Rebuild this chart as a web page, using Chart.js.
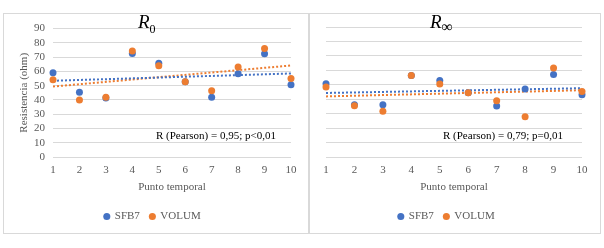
<!DOCTYPE html>
<html><head><meta charset="utf-8">
<script src="https://cdn.jsdelivr.net/npm/chart.js@4.4.0/dist/chart.umd.min.js"></script>
<style>
body{margin:0;background:#fff;width:604px;height:248px;position:relative;overflow:hidden;font-family:"Liberation Serif",serif;}
.box{position:absolute;border:1px solid #d9d9d9;box-sizing:border-box;}
canvas{position:absolute;}
.ttl{position:absolute;font-family:"Liberation Serif",serif;font-size:19px;line-height:19px;color:#000;white-space:nowrap;}
.note{position:absolute;font-family:"Liberation Serif",serif;font-size:11px;line-height:13px;color:#000;white-space:nowrap;}
</style></head><body>
<div class="box" style="left:3px;top:13px;width:306px;height:221px"></div>
<div class="box" style="left:309px;top:13px;width:292px;height:221px"></div>
<canvas id="c1" width="304" height="218" style="left:4px;top:14px"></canvas>
<canvas id="c2" width="288" height="218" style="left:311px;top:14px"></canvas>
<div class="ttl" style="left:138px;top:12px"><i>R</i><span style="font-size:12px;vertical-align:-5px">0</span></div>
<div class="ttl" style="left:430px;top:12px"><i>R</i><span style="font-size:16px;vertical-align:-4px">∞</span></div>
<div class="note" style="left:156px;top:129px">R (Pearson) = 0,95; p&lt;0,01</div>
<div class="note" style="left:443px;top:129px">R (Pearson) = 0,79; p=0,01</div>
<script>
const timePoints = [1,2,3,4,5,6,7,8,9,10];
const r0SFB7  = [59, 45.3, 41.4, 72.5, 65.7, 52.8, 41.8, 58.3, 72.3, 50.7];
const r0VOLUM = [54.2, 40, 41.8, 74.3, 64, 52.8, 46.5, 63, 76, 55];
const rInfSFB7  = [50.7, 36.2, 36.2, 56.5, 53, 44.5, 35.3, 47, 57.2, 43.1];
const rInfVOLUM = [48.4, 35.5, 31.6, 56.5, 50.5, 44.5, 39, 27.9, 61.6, 45.4];
const seriesNames = ['SFB7', 'VOLUM'];
const yTickMin = 0, yTickMax = 90, yTickStep = 10;

const BLUE = '#4472C4', ORANGE = '#ED7D31', GRID = '#D9D9D9', TXT = '#595959';
const FONT = '"Liberation Serif", "Times New Roman", serif';

function pts(arr){ return timePoints.map((x,i)=>({x:x, y:arr[i]})); }
function trend(arr){
  const n = arr.length;
  const mx = timePoints.reduce((a,b)=>a+b,0)/n;
  const my = arr.reduce((a,b)=>a+b,0)/n;
  let sxy=0, sxx=0;
  for(let i=0;i<n;i++){ sxy += (timePoints[i]-mx)*(arr[i]-my); sxx += (timePoints[i]-mx)**2; }
  const b = sxy/sxx, a = my - b*mx;
  const x0 = timePoints[0], x1 = timePoints[n-1];
  return [{x:x0, y:a+b*x0}, {x:x1, y:a+b*x1}];
}

function makeChart(id, sfb, vol, showY, yWidth, padLeft){
  return new Chart(document.getElementById(id), {
    type: 'scatter',
    data: { datasets: [
      {label:seriesNames[0], data:pts(sfb), backgroundColor:BLUE, borderColor:BLUE, borderWidth:0, pointRadius:3.5, pointHoverRadius:3.5, pointStyle:'circle', order:1, clip:false},
      {label:seriesNames[1], data:pts(vol), backgroundColor:ORANGE, borderColor:ORANGE, borderWidth:0, pointRadius:3.5, pointHoverRadius:3.5, pointStyle:'circle', order:0, clip:false},
      {label:'t1', type:'line', data:trend(sfb), borderColor:BLUE, borderWidth:2, borderDash:[2,2], pointRadius:0, fill:false, order:2},
      {label:'t2', type:'line', data:trend(vol), borderColor:ORANGE, borderWidth:2, borderDash:[2,2], pointRadius:0, fill:false, order:3}
    ]},
    options: {
      responsive:false, animation:false, devicePixelRatio:1,
      layout:{padding:{left:padLeft, right:17, top:13, bottom:0}},
      plugins:{
        tooltip:{enabled:false},
        legend:{
          position:'bottom',
          labels:{
            font:{family:FONT, size:11}, color:TXT, usePointStyle:true, boxWidth:5, boxHeight:5, padding:10,
            filter:(item)=>item.datasetIndex<2,
            sort:(a,b)=>a.datasetIndex-b.datasetIndex
          }
        }
      },
      scales:{
        x:{
          type:'linear', min:timePoints[0], max:timePoints[timePoints.length-1],
          grid:{display:false, drawTicks:false}, border:{display:false},
          ticks:{stepSize:1, autoSkip:false, color:TXT, font:{family:FONT, size:11}, padding:7},
          title:{display:true, text:'Punto temporal', color:TXT, font:{family:FONT, size:11}, padding:{top:0,bottom:7}},
          afterFit:(s)=>{ s.height = 44; }
        },
        y:{
          min:yTickMin, max:yTickMax,
          grid:{color:GRID, drawTicks:false}, border:{display:false},
          ticks:{display:showY, stepSize:yTickStep, autoSkip:false, color:TXT, font:{family:FONT, size:11}, padding:8},
          title:{display:showY, text:'Resistencia (ohm)', color:TXT, font:{family:FONT, size:11}},
          afterFit:(s)=>{ s.width = yWidth; }
        }
      }
    }
  });
}
makeChart('c1', r0SFB7, r0VOLUM, true, 39, 10);
makeChart('c2', rInfSFB7, rInfVOLUM, false, 15, 0);
</script>
</body></html>
